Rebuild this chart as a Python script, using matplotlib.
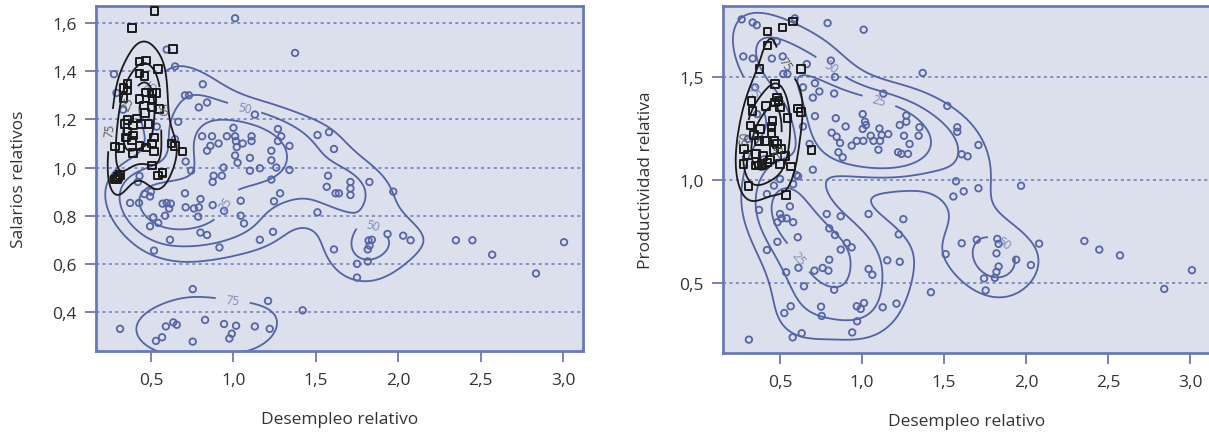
import numpy as np
import matplotlib
matplotlib.use('Agg')
import matplotlib.pyplot as plt

plt.rcParams['font.family'] = ['Open Sans', 'DejaVu Sans']

# ---- left panel: desempleo vs salarios ----
sal_circ_x = [1.01, 1.374, 0.275, 0.29, 0.646, 0.595, 0.814, 0.706, 0.73, 0.84, 0.79, 1.13, 0.665, 0.33,
              0.535, 1.27, 1.0, 1.51, 1.58, 0.81, 0.87, 0.96, 1.01, 1.11, 1.29, 1.27, 1.015, 1.056, 1.11,
              1.34, 0.91, 0.86, 0.84, 1.02, 1.23, 1.61, 1.01, 1.10, 1.23, 0.71, 1.025, 0.645, 0.94, 0.743,
              1.10, 1.16, 1.26, 1.34, 0.88, 0.93, 1.574, 0.43, 0.874, 1.23, 1.566, 1.62, 1.64, 0.42, 0.46,
              0.50, 0.494, 0.373, 0.427, 0.706, 0.80, 0.57, 0.595, 0.62, 0.61, 0.585, 0.71, 0.76, 0.79,
              0.786, 0.874, 0.943, 1.044, 1.044, 1.064, 1.246, 1.283, 1.51, 0.514, 0.544, 0.494, 0.80,
              0.84, 0.615, 0.518, 0.915, 1.16, 1.24, 1.61, 0.753, 1.21, 1.42, 0.312, 0.635, 0.656, 0.59,
              0.53, 0.567, 0.753, 0.828, 0.943, 1.016, 0.99, 0.975, 1.13, 1.22, 1.71, 1.71, 1.71, 1.825,
              1.97, 1.935, 2.03, 2.075, 1.82, 1.84, 1.826, 1.815, 1.815, 1.75, 1.75, 2.35, 2.45, 2.57,
              2.836, 3.006]
sal_circ_y = [1.62, 1.476, 1.388, 1.31, 1.42, 1.49, 1.346, 1.30, 1.30, 1.27, 1.25, 1.22, 1.19, 1.24,
              1.17, 1.16, 1.165, 1.135, 1.147, 1.13, 1.13, 1.13, 1.13, 1.13, 1.13, 1.11, 1.11, 1.10, 1.11,
              1.09, 1.10, 1.09, 1.07, 1.085, 1.07, 1.077, 1.05, 1.04, 1.03, 1.025, 1.02, 1.118, 1.0, 0.987,
              0.987, 0.997, 1.0, 0.99, 0.966, 0.966, 0.966, 0.965, 0.94, 0.95, 0.92, 0.893, 0.893, 0.94, 0.89,
              0.90, 0.88, 0.853, 0.853, 0.893, 0.869, 0.85, 0.853, 0.85, 0.83, 0.80, 0.835, 0.83, 0.835,
              0.796, 0.844, 0.82, 0.862, 0.80, 0.768, 0.86, 0.893, 0.814, 0.793, 0.77, 0.756, 0.73,
              0.72, 0.70, 0.655, 0.668, 0.70, 0.733, 0.66, 0.495, 0.446, 0.407, 0.33, 0.357, 0.347, 0.34,
              0.28, 0.295, 0.277, 0.367, 0.35, 0.343, 0.31, 0.29, 0.34, 0.33, 0.94, 0.913, 0.886, 0.94,
              0.90, 0.724, 0.717, 0.698, 0.697, 0.70, 0.676, 0.66, 0.61, 0.60, 0.543, 0.698, 0.698, 0.638,
              0.56, 0.69]
sal_sq_x = [0.52, 0.383, 0.632, 0.43, 0.47, 0.544, 0.43, 0.46, 0.356, 0.332, 0.356, 0.332, 0.47, 0.504,
            0.534, 0.51, 0.43, 0.458, 0.55, 0.504, 0.464, 0.413, 0.356, 0.389, 0.342, 0.44, 0.484, 0.356,
            0.389, 0.348, 0.383, 0.518, 0.504, 0.518, 0.47, 0.43, 0.389, 0.282, 0.312, 0.625, 0.646, 0.692,
            0.504, 0.57, 0.312, 0.292, 0.30, 0.28, 0.544, 0.57]
sal_sq_y = [1.649, 1.58, 1.492, 1.44, 1.445, 1.41, 1.39, 1.38, 1.347, 1.33, 1.32, 1.29, 1.312, 1.31,
            1.31, 1.285, 1.285, 1.257, 1.242, 1.25, 1.226, 1.204, 1.198, 1.174, 1.18, 1.18, 1.18, 1.149,
            1.133, 1.125, 1.112, 1.125, 1.10, 1.066, 1.084, 1.09, 1.06, 1.087, 1.08, 1.10, 1.09, 1.066,
            1.008, 0.98, 0.97, 0.953, 0.96, 0.95, 0.967, 0.978]

# ---- right panel: desempleo vs productividad ----
prod_circ_x = [0.266, 0.333, 0.358, 0.59, 0.79, 1.01, 0.48, 0.276, 0.333, 0.45, 0.516, 0.81, 0.663, 0.348,
               0.52, 0.545, 0.64, 0.713, 0.74, 0.83, 0.835, 0.70, 1.13, 1.37, 0.713, 0.64, 0.84, 0.90, 0.815,
               0.845, 0.866, 0.856, 0.882, 1.004, 1.018, 1.024, 1.004, 0.937, 0.968, 1.008, 1.053, 1.07,
               1.106, 1.12, 1.16, 1.10, 1.11, 1.23, 1.27, 1.27, 1.35, 1.345, 1.29, 1.256, 1.22, 1.24, 1.28,
               0.68, 0.70, 0.60, 0.36, 0.305, 0.40, 0.50, 0.61, 0.58, 0.463, 0.42, 0.56, 0.50, 0.54, 0.51,
               0.484, 0.58, 0.372, 0.608, 0.484, 0.42, 0.537, 0.612, 0.646, 0.565, 0.526, 0.31, 0.577, 0.632,
               0.785, 0.87, 1.04, 0.80, 0.835, 0.907, 0.937, 0.87, 0.80, 0.71, 0.76, 0.795, 0.83, 0.75, 0.754,
               0.968, 0.992, 1.012, 0.97, 0.94, 1.04, 1.063, 1.154, 1.23, 1.126, 1.21, 1.224, 1.252, 1.42,
               1.52, 1.581, 1.581, 1.71, 1.608, 1.644, 1.573, 1.557, 1.62, 1.71, 1.97, 1.51, 1.608, 1.70,
               1.825, 1.833, 1.82, 1.833, 1.82, 1.81, 1.744, 1.754, 1.94, 2.03, 2.08, 2.356, 2.447, 2.573,
               2.843, 3.012]
prod_circ_y = [1.78, 1.765, 1.752, 1.785, 1.762, 1.73, 1.673, 1.60, 1.59, 1.59, 1.60, 1.58, 1.563, 1.45,
               1.515, 1.515, 1.45, 1.47, 1.43, 1.42, 1.50, 1.40, 1.42, 1.52, 1.31, 1.26, 1.30, 1.26, 1.23,
               1.21, 1.18, 1.135, 1.11, 1.32, 1.283, 1.267, 1.248, 1.167, 1.19, 1.19, 1.215, 1.19,
               1.25, 1.218, 1.223, 1.147, 1.19, 1.267, 1.283, 1.313, 1.256, 1.215, 1.175, 1.215, 1.135, 1.127,
               1.127, 1.175, 1.05, 1.024, 1.32, 1.2, 1.1, 1.005, 1.018, 0.98, 0.973, 0.932, 0.872, 0.835,
               0.814, 0.814, 0.795, 0.795, 0.855, 0.722, 0.70, 0.66, 0.552, 0.574, 0.484, 0.387, 0.354, 0.225,
               0.236, 0.256, 0.835, 0.824, 0.835, 0.765, 0.733, 0.694, 0.673, 0.662, 0.613, 0.56, 0.573,
               0.56, 0.467, 0.385, 0.34, 0.387, 0.374, 0.403, 0.314, 0.26, 0.568, 0.54, 0.61, 0.603, 0.382,
               0.40, 0.736, 0.81, 0.455, 1.36, 1.256, 1.234, 1.17, 1.125, 1.115, 0.994, 0.92, 0.945, 0.96,
               0.972, 0.64, 0.693, 0.71, 0.714, 0.69, 0.644, 0.58, 0.554, 0.525, 0.522, 0.464, 0.613, 0.587,
               0.691, 0.704, 0.662, 0.634, 0.471, 0.562]
prod_sq_x = [0.58, 0.516, 0.423, 0.423, 0.374, 0.628, 0.47, 0.48, 0.49, 0.47, 0.50, 0.327, 0.333, 0.415,
             0.545, 0.61, 0.626, 0.455, 0.449, 0.449, 0.321, 0.378, 0.341, 0.37, 0.409, 0.465, 0.48, 0.51,
             0.53, 0.46, 0.28, 0.303, 0.354, 0.395, 0.44, 0.423, 0.39, 0.368, 0.276, 0.354, 0.50, 0.567,
             0.693, 0.307, 0.537]
prod_sq_y = [1.77, 1.74, 1.722, 1.653, 1.539, 1.539, 1.466, 1.40, 1.385, 1.377, 1.353, 1.385, 1.336, 1.36,
             1.30, 1.348, 1.33, 1.288, 1.256, 1.228, 1.264, 1.248, 1.218, 1.19, 1.19, 1.19, 1.175, 1.15,
             1.118, 1.147, 1.15, 1.121, 1.126, 1.118, 1.10, 1.086, 1.078, 1.07, 1.078, 1.07, 1.078, 1.066,
             1.146, 0.97, 0.927]

BG = '#dce0ed'
BLUE = '#6a7ab6'
PT = '#5665a6'
CBLUE = '#5263a3'
LBL = '#7c88b8'


def kde_grid(x, y, bw):
    # density over a wide grid, levels = highest-density regions holding 25/50/75 % of the mass
    x = np.asarray(x)
    y = np.asarray(y)
    cov = np.cov(np.vstack([x, y])) * bw ** 2
    inv = np.linalg.inv(cov)
    gx = np.linspace(-0.5, 3.8, 300)
    gy = np.linspace(-0.3, 2.3, 260)
    XX, YY = np.meshgrid(gx, gy)
    dx = XX.ravel()[:, None] - x[None, :]
    dy = YY.ravel()[:, None] - y[None, :]
    e = inv[0, 0] * dx * dx + 2 * inv[0, 1] * dx * dy + inv[1, 1] * dy * dy
    Z = np.exp(-0.5 * e).sum(axis=1).reshape(XX.shape)
    zs = np.sort(Z.ravel())[::-1]
    cum = np.cumsum(zs) / zs.sum()
    levels = [zs[np.searchsorted(cum, p)] for p in (0.75, 0.50, 0.25)]
    return XX, YY, Z, levels


def panel(ax, cx, cy, sx, sy, xlim, ylim, yticks, ylab, bw_c, bw_s):
    ax.set_facecolor(BG)
    for yt in yticks:
        ax.axhline(yt, color=BLUE, lw=1.1, ls=(0, (2, 2.2)), zorder=1)

    XX, YY, Z, lv = kde_grid(cx, cy, bw_c)
    cs = ax.contour(XX, YY, Z, levels=lv, colors=CBLUE, linewidths=1.3, zorder=2)
    ax.clabel(cs, fmt={lv[0]: '75', lv[1]: '50', lv[2]: '25'}, fontsize=8.5, colors=LBL, inline=True)

    XX, YY, Z, lv = kde_grid(sx, sy, bw_s)
    cs = ax.contour(XX, YY, Z, levels=lv, colors='#1a1a1a', linewidths=1.3, zorder=4)
    ax.clabel(cs, fmt={lv[0]: '75', lv[1]: '50', lv[2]: '25'}, fontsize=8.5, colors='#555555', inline=True)

    ax.scatter(cx, cy, s=22, facecolors='none', edgecolors=PT, linewidths=1.3, zorder=3)
    ax.scatter(sx, sy, s=30, marker='s', facecolors='none', edgecolors='#1a1a1a', linewidths=1.4, zorder=5)

    ax.set_xlim(xlim)
    ax.set_ylim(ylim)
    ax.set_xticks([0.5, 1.0, 1.5, 2.0, 2.5, 3.0])
    ax.set_xticklabels(['0,5', '1,0', '1,5', '2,0', '2,5', '3,0'])
    ax.set_yticks(yticks)
    ax.set_yticklabels([('%.1f' % v).replace('.', ',') for v in yticks])
    ax.tick_params(length=8, width=1.3, color=BLUE, labelsize=12.5, labelcolor='#333333')
    ax.tick_params(axis='x', pad=7)
    ax.tick_params(axis='y', pad=6)
    for sp in ax.spines.values():
        sp.set_color(BLUE)
        sp.set_linewidth(2)
    ax.set_xlabel('Desempleo relativo', fontsize=12.5, color='#333333', labelpad=17)
    ax.set_ylabel(ylab, fontsize=12.5, color='#333333', labelpad=18)


fig = plt.figure(figsize=(12.09, 4.35), dpi=100)
ax1 = fig.add_axes([0.0794, 0.1908, 0.4028, 0.7931])
ax2 = fig.add_axes([0.598, 0.1862, 0.4028, 0.7977])

panel(ax1, sal_circ_x, sal_circ_y, sal_sq_x, sal_sq_y, (0.166, 3.121), (0.238, 1.671),
      [0.4, 0.6, 0.8, 1.0, 1.2, 1.4, 1.6], 'Salarios relativos', 0.32, 0.62)
panel(ax2, prod_circ_x, prod_circ_y, prod_sq_x, prod_sq_y, (0.152, 3.122), (0.16, 1.845),
      [0.5, 1.0, 1.5], 'Productividad relativa', 0.32, 0.62)

fig.savefig('out.png', dpi=100)
